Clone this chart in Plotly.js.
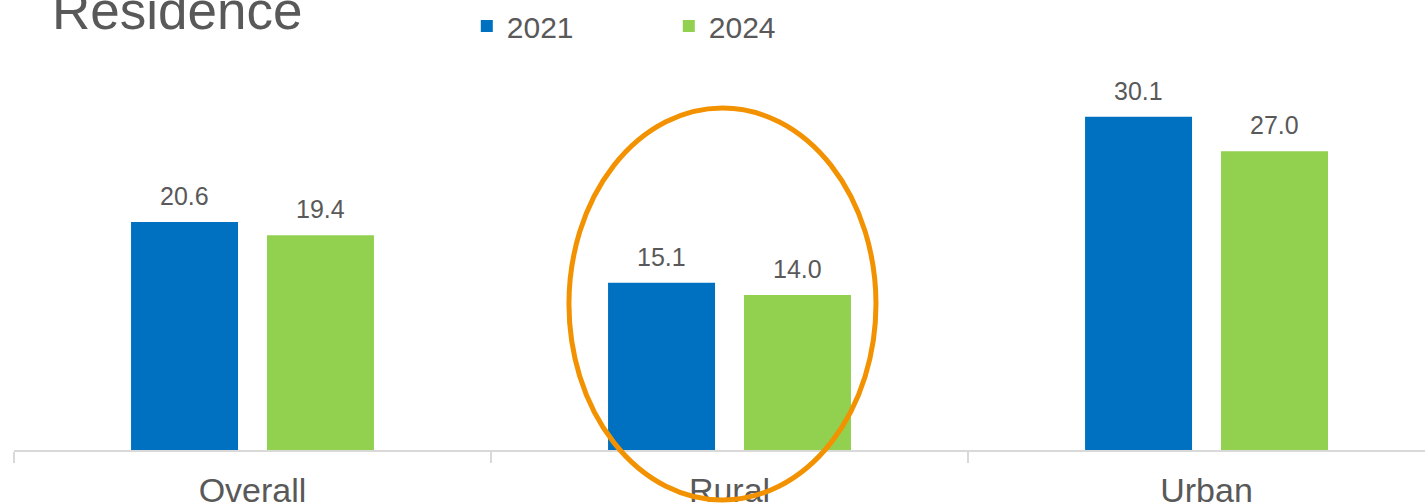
<!DOCTYPE html>
<html>
<head>
<meta charset="utf-8">
<script src="https://cdn.plot.ly/plotly-3.0.1.min.js"></script>
<style>html,body{margin:0;padding:0;background:#fff;}#chart{width:1425px;height:504px;}</style>
</head>
<body>
<div id="chart"></div>
<script>
var categories = ["Overall", "Rural", "Urban"];
var series2021 = [20.6, 15.1, 30.1];
var series2024 = [19.4, 14.0, 27.0];
var seriesNames = ["2021", "2024"];
var chartTitle = "Residence";

var colors = ["#0070C0", "#92D050"];
var textColor = "#595959";
var fontFam = "Liberation Sans, Arial, sans-serif";

var traces = [
  {type: "bar", name: seriesNames[0], x: categories, y: series2021,
   marker: {color: colors[0]}, hoverinfo: "skip"},
  {type: "bar", name: seriesNames[1], x: categories, y: series2024,
   marker: {color: colors[1]}, hoverinfo: "skip"}
];

var annotations = [];
[series2021, series2024].forEach(function (vals, si) {
  vals.forEach(function (v, i) {
    annotations.push({
      x: categories[i], y: v, xref: "x", yref: "y",
      text: v.toFixed(1), showarrow: false,
      xshift: si === 0 ? -68 : 68, yshift: 10, yanchor: "bottom",
      font: {size: 25, color: textColor, family: fontFam}
    });
  });
});

var layout = {
  width: 1425, height: 504,
  margin: {l: 14, r: 0, t: 60, b: 54, autoexpand: false},
  paper_bgcolor: "#ffffff", plot_bgcolor: "#ffffff",
  font: {family: fontFam, color: textColor},
  title: {text: chartTitle, x: 52 / 1425, xanchor: "left", xref: "container",
          y: 1 - 29 / 504, yanchor: "bottom", yref: "container",
          font: {size: 53, color: textColor, family: fontFam}},
  barmode: "group", bargap: 0.43, bargroupgap: 0.213,
  showlegend: true,
  legend: {orientation: "h", x: 0.3209, xanchor: "left", xref: "paper",
           y: 1 - 26 / 504, yanchor: "middle", yref: "container",
           font: {size: 30, color: textColor, family: fontFam},
           entrywidth: 157, entrywidthmode: "pixels", bgcolor: "rgba(0,0,0,0)"},
  xaxis: {type: "category", range: [-0.5, 2.458], showgrid: false, zeroline: false,
          showline: true, linecolor: "#d9d9d9", linewidth: 1.5, automargin: false,
          ticks: "outside", tickson: "boundaries", ticklen: 11, tickcolor: "#d9d9d9", tickwidth: 1.5,
          ticklabelstandoff: 10,
          tickfont: {size: 34, color: textColor, family: fontFam}, fixedrange: true},
  yaxis: {visible: false, range: [0, 390 * 20.6 / 228], showgrid: false, zeroline: false, fixedrange: true},
  annotations: annotations,
  shapes: [{type: "circle", xref: "paper", yref: "paper",
            x0: 0.3933, x1: 0.6109, y0: -0.1282, y1: 0.8769,
            line: {color: "#F39200", width: 5}, fillcolor: "rgba(0,0,0,0)", layer: "above"}]
};

Plotly.newPlot("chart", traces, layout, {displayModeBar: false, staticPlot: true});
</script>
</body>
</html>
